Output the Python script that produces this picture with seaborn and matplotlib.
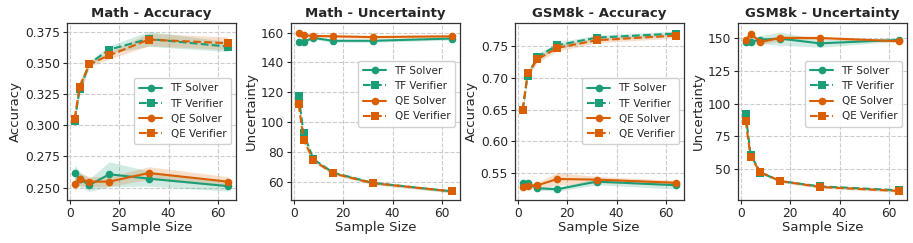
import numpy as np
import matplotlib
matplotlib.use("Agg")
import matplotlib.pyplot as plt
import seaborn as sns
import pandas as pd

sample_sizes = [2, 4, 8, 16, 32, 64]

# Math - Accuracy
math_acc_tf_solver = [0.2615, 0.2567, 0.2521, 0.2607, 0.2572, 0.2512]
math_acc_tf_verifier = [0.3037, 0.3288, 0.3494, 0.3606, 0.3691, 0.3630]
math_acc_qe_solver = [0.2532, 0.2567, 0.2548, 0.2548, 0.2617, 0.2548]
math_acc_qe_verifier = [0.3053, 0.3310, 0.3490, 0.3560, 0.3686, 0.3657]
math_acc_tf_solver_err = [0.007, 0.006, 0.005, 0.010, 0.006, 0.004]
math_acc_tf_verifier_err = [0.002, 0.004, 0.002, 0.003, 0.006, 0.004]
math_acc_qe_solver_err = [0.006, 0.005, 0.004, 0.004, 0.005, 0.004]
math_acc_qe_verifier_err = [0.003, 0.005, 0.002, 0.003, 0.005, 0.005]

# Math - Uncertainty
math_unc_tf_solver = [154.0, 154.0, 156.4, 154.5, 154.5, 156.0]
math_unc_tf_verifier = [117.7, 92.4, 75.0, 66.0, 59.2, 53.5]
math_unc_qe_solver = [160.0, 158.2, 157.8, 157.5, 157.0, 157.5]
math_unc_qe_verifier = [111.9, 88.0, 74.2, 65.5, 59.0, 53.5]
math_unc_tf_solver_err = [1.0, 1.0, 1.0, 1.0, 1.0, 1.0]
math_unc_tf_verifier_err = [1.0, 1.0, 1.0, 1.0, 1.0, 1.0]
math_unc_qe_solver_err = [1.0, 1.0, 1.0, 1.0, 1.0, 1.0]
math_unc_qe_verifier_err = [1.0, 1.0, 1.0, 1.0, 1.0, 1.0]

# GSM8k - Accuracy
gsm_acc_tf_solver = [0.5353, 0.5340, 0.5264, 0.5249, 0.5369, 0.5312]
gsm_acc_tf_verifier = [0.6490, 0.7034, 0.7327, 0.7510, 0.7630, 0.7694]
gsm_acc_qe_solver = [0.5280, 0.5305, 0.5310, 0.5410, 0.5400, 0.5350]
gsm_acc_qe_verifier = [0.6495, 0.7070, 0.7290, 0.7469, 0.7589, 0.7662]
gsm_acc_tf_solver_err = [0.003, 0.003, 0.003, 0.003, 0.005, 0.006]
gsm_acc_tf_verifier_err = [0.004, 0.005, 0.005, 0.005, 0.004, 0.004]
gsm_acc_qe_solver_err = [0.002, 0.004, 0.005, 0.010, 0.005, 0.004]
gsm_acc_qe_verifier_err = [0.004, 0.005, 0.005, 0.005, 0.004, 0.004]

# GSM8k - Uncertainty
gsm_unc_tf_solver = [147.2, 147.0, 148.7, 149.5, 145.9, 148.5]
gsm_unc_tf_verifier = [92.1, 61.2, 47.5, 41.0, 37.0, 34.0]
gsm_unc_qe_solver = [148.2, 153.3, 147.0, 150.0, 150.0, 147.5]
gsm_unc_qe_verifier = [87.0, 59.1, 47.7, 41.1, 36.5, 33.5]
gsm_unc_tf_solver_err = [1.0, 2.0, 3.0, 5.0, 3.0, 1.0]
gsm_unc_tf_verifier_err = [1.0, 1.0, 1.0, 1.0, 1.0, 1.0]
gsm_unc_qe_solver_err = [1.0, 1.0, 2.0, 2.0, 1.0, 1.0]
gsm_unc_qe_verifier_err = [1.0, 1.0, 1.0, 1.0, 1.0, 1.0]

panels = [
    ("Math - Accuracy", "Accuracy",
     [math_acc_tf_solver, math_acc_tf_verifier, math_acc_qe_solver, math_acc_qe_verifier],
     [math_acc_tf_solver_err, math_acc_tf_verifier_err, math_acc_qe_solver_err, math_acc_qe_verifier_err],
     (0.2401, 0.3822), [0.250, 0.275, 0.300, 0.325, 0.350, 0.375], "{:.3f}", 0.5),
    ("Math - Uncertainty", "Uncertainty",
     [math_unc_tf_solver, math_unc_tf_verifier, math_unc_qe_solver, math_unc_qe_verifier],
     [math_unc_tf_solver_err, math_unc_tf_verifier_err, math_unc_qe_solver_err, math_unc_qe_verifier_err],
     (47.7, 166.7), [60, 80, 100, 120, 140, 160], "{:.0f}", 0.6),
    ("GSM8k - Accuracy", "Accuracy",
     [gsm_acc_tf_solver, gsm_acc_tf_verifier, gsm_acc_qe_solver, gsm_acc_qe_verifier],
     [gsm_acc_tf_solver_err, gsm_acc_tf_verifier_err, gsm_acc_qe_solver_err, gsm_acc_qe_verifier_err],
     (0.508, 0.7866), [0.55, 0.60, 0.65, 0.70, 0.75], "{:.2f}", 0.5),
    ("GSM8k - Uncertainty", "Uncertainty",
     [gsm_unc_tf_solver, gsm_unc_tf_verifier, gsm_unc_qe_solver, gsm_unc_qe_verifier],
     [gsm_unc_tf_solver_err, gsm_unc_tf_verifier_err, gsm_unc_qe_solver_err, gsm_unc_qe_verifier_err],
     (26.6, 161.7), [50, 75, 100, 125, 150], "{:.0f}", 0.6),
]

labels = ["TF Solver", "TF Verifier", "QE Solver", "QE Verifier"]
pal = sns.color_palette("Dark2")
colors = [pal[0], pal[0], pal[1], pal[1]]
styles = ["-", "--", "-", "--"]
markers = ["o", "s", "o", "s"]

sns.set_style("ticks")
plt.rcParams["font.family"] = ["DejaVu Sans"]

fig, axes = plt.subplots(1, 4, figsize=(9.13, 2.43), dpi=100)
lefts = [67, 291, 515, 738]
for i, ax in enumerate(axes):
    ax.set_position([lefts[i] / 913, 0.177, 168.5 / 913, 0.730])

for ax, (title, ylabel, series, errs, ylim, yticks, fmt, leg_y) in zip(axes, panels):
    for vals, err, lab, c, ls, m in zip(series, errs, labels, colors, styles, markers):
        df = pd.DataFrame({"Sample Size": sample_sizes, "value": vals})
        sns.lineplot(data=df, x="Sample Size", y="value", ax=ax, color=c,
                     linestyle=ls, marker=m, markersize=5.5, markeredgewidth=0,
                     linewidth=1.5, label=lab)
        lo = np.array(vals) - np.array(err)
        hi = np.array(vals) + np.array(err)
        ax.fill_between(sample_sizes, lo, hi, color=c, alpha=0.2, linewidth=0)
    ax.set_title(title, fontsize=9.5, fontweight="bold", pad=4)
    ax.set_xlabel("Sample Size", fontsize=9.5, labelpad=1)
    ax.set_ylabel(ylabel, fontsize=9.5, labelpad=2)
    ax.set_ylim(*ylim)
    ax.set_xticks([0, 20, 40, 60])
    ax.set_yticks(yticks)
    ax.set_yticklabels([fmt.format(t) for t in yticks])
    ax.tick_params(labelsize=8.8, length=3, pad=2)
    ax.grid(True, linestyle="--", color="#cccccc", linewidth=0.8)
    for s in ax.spines.values():
        s.set_color("#333333")
        s.set_linewidth(0.9)
    ax.legend(loc="center right", bbox_to_anchor=(1.0, leg_y), fontsize=7.5,
              frameon=True, framealpha=0.9, handlelength=2.2, labelspacing=0.5,
              borderpad=0.5, borderaxespad=0.4)

fig.savefig("out.png", dpi=100)
